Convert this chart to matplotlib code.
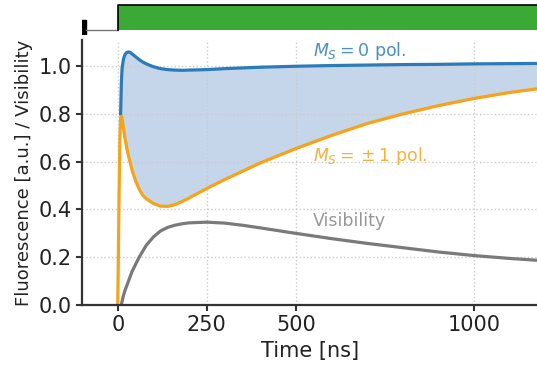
import matplotlib.pyplot as plt
import numpy as np

# Time axis (ns) and fluorescence traces
time_ns = np.array([0, 2, 4, 6, 8, 10, 12, 16, 20, 25, 30, 35, 40, 50, 60, 70, 80,
                    100, 120, 140, 160, 180, 200, 250, 300, 350, 400, 500, 600,
                    700, 800, 900, 1000, 1100, 1200])
ms0 = np.array([np.nan, np.nan, np.nan, np.nan, 0.80, 0.93, 0.99, 1.03, 1.048, 1.058,
                1.06, 1.058, 1.052, 1.04, 1.028, 1.018, 1.01, 0.998, 0.99, 0.986,
                0.984, 0.983, 0.984, 0.986, 0.99, 0.993, 0.996, 1.0, 1.003, 1.005,
                1.007, 1.008, 1.01, 1.011, 1.012])
ms1 = np.array([0.0, 0.25, 0.5, 0.7, 0.785, 0.79, 0.78, 0.74, 0.70, 0.66, 0.625, 0.595,
                0.565, 0.52, 0.485, 0.46, 0.445, 0.425, 0.414, 0.413, 0.42, 0.433,
                0.448, 0.488, 0.525, 0.56, 0.595, 0.655, 0.71, 0.76, 0.80, 0.835,
                0.865, 0.89, 0.91])
visibility = np.array([np.nan, np.nan, np.nan, np.nan, np.nan, 0.0, 0.015, 0.04, 0.06,
                       0.08, 0.10, 0.12, 0.14, 0.17, 0.20, 0.225, 0.25, 0.285, 0.31,
                       0.325, 0.334, 0.34, 0.344, 0.347, 0.343, 0.334, 0.323, 0.30,
                       0.278, 0.258, 0.24, 0.222, 0.207, 0.195, 0.185])

# Pulse sequence: short readout marker, then laser on from t=0
marker_t = [-100, -88]
laser_on = [0, 1300]

blue = '#2b7bba'
orange = '#f5a31a'
grey = '#7a7a7a'

fig = plt.figure(figsize=(5.37, 3.67), dpi=100)
ax = fig.add_axes([0.153, 0.169, 0.847, 0.722])
top = fig.add_axes([0.153, 0.907, 0.847, 0.087], sharex=ax)

ax.fill_between(time_ns, ms1, ms0, where=~np.isnan(ms0), color='#c5d5ea', lw=0)
ax.plot(time_ns, ms0, color=blue, lw=2.3)
ax.plot(time_ns, ms1, color=orange, lw=2.3)
ax.plot(time_ns, visibility, color=grey, lw=2.3)

ax.text(548, 1.063, r'$M_S = 0$ pol.', color=blue, fontsize=12.5, va='center', alpha=0.85)
ax.text(548, 0.626, r'$M_S = {} \pm 1$ pol.', color=orange, fontsize=12.5, va='center', alpha=0.85)
ax.text(548, 0.353, 'Visibility', color='#999999', fontsize=12.5, va='center')

ax.set_xlim(-100, 1177)
ax.set_ylim(0, 1.11)
ax.set_xticks([0, 250, 500, 1000])
ax.set_yticks([0.0, 0.2, 0.4, 0.6, 0.8, 1.0])
ax.set_yticklabels(['0.0', '0.2', '0.4', '0.6', '0.8', '1.0'])
ax.grid(True, linestyle=':', color='#cccccc', lw=1)
ax.tick_params(labelsize=15, color='#333333', labelcolor='#222222', width=1.5, length=4)
ax.set_xlabel('Time [ns]', fontsize=15, color='#222222')
ax.set_ylabel('Fluorescence [a.u.] / Visibility', fontsize=13, color='#222222')
for side in ['top', 'right']:
    ax.spines[side].set_visible(False)
for side in ['left', 'bottom']:
    ax.spines[side].set_color('#333333')
    ax.spines[side].set_linewidth(1.6)

# pulse panel on top
top.plot([marker_t[1], laser_on[0]], [0.12, 0.12], color='#777777', lw=1)
top.fill_between(marker_t, 0.0, 0.45, color='black')
top.fill_between(laser_on, 0.12, 0.9, color='#3aa935', lw=0)
top.plot([laser_on[0], laser_on[0], laser_on[1]], [0.12, 0.9, 0.9], color='black', lw=1.2)
top.set_ylim(0, 1)
top.axis('off')

fig.savefig('out.png', dpi=100)
